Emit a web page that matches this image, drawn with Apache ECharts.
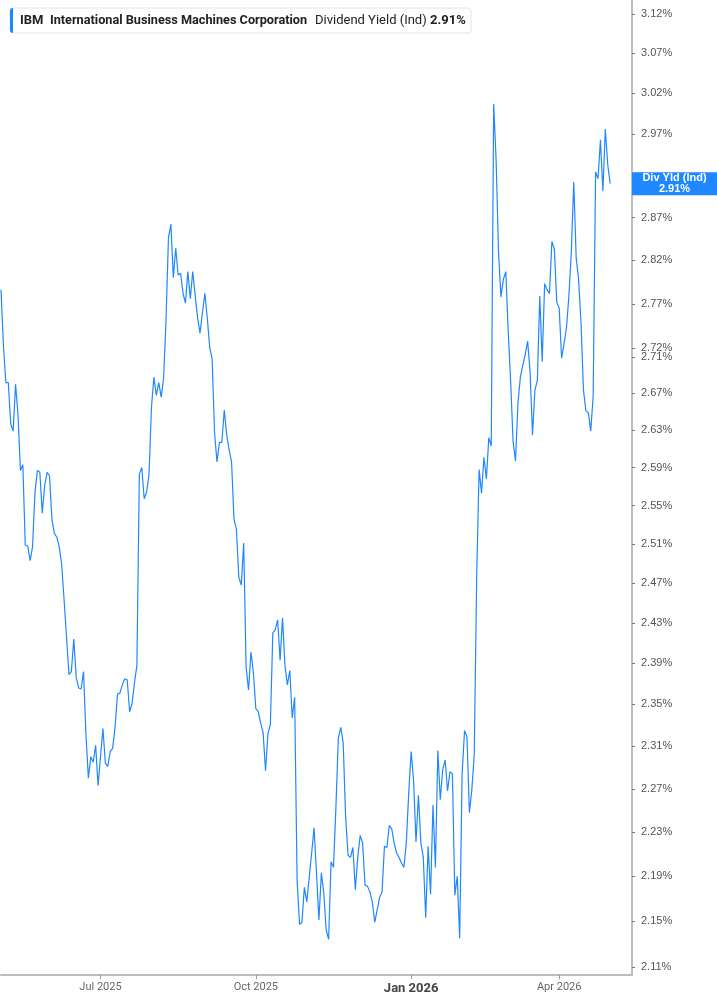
<!DOCTYPE html>
<html><head><meta charset="utf-8">
<script src="https://cdn.jsdelivr.net/npm/echarts@6/dist/echarts.min.js"></script>
<style>html,body{margin:0;padding:0;background:#fff}#c{width:717px;height:1005px}</style>
</head><body><div id="c"></div>
<script>
const ticker = 'IBM';
const companyName = 'International Business Machines Corporation';
const metricName = 'Dividend Yield (Ind)';
const metricShort = 'Div Yld (Ind)';
const startDate = '2025-05-01';
const categoryCount = 261;
const marketHolidays = ['2025-05-26','2025-06-19','2025-07-04','2025-09-01','2025-11-27','2025-12-25',
  '2026-01-01','2026-01-19','2026-02-16','2026-04-03'];
const monthNames = ['Jan','Feb','Mar','Apr','May','Jun','Jul','Aug','Sep','Oct','Nov','Dec'];
const quarterMonths = [0,3,6,9];
const yTickValues = [2.11,2.15,2.19,2.23,2.27,2.31,2.35,2.39,2.43,2.47,2.51,2.55,2.59,2.63,2.67,2.71,2.72,2.77,2.82,2.87,2.97,3.02,3.07,3.12];
const yieldValues = [
2.786,2.723,2.682,2.682,2.637,2.629,2.680,2.647,2.587,2.593,
2.509,2.508,2.493,2.507,2.564,2.587,2.585,2.542,2.571,2.585,
2.581,2.535,2.521,2.517,2.507,2.489,2.453,2.416,2.379,2.382,
2.414,2.376,2.366,2.365,2.382,2.321,2.280,2.300,2.295,2.311,
2.273,2.300,2.327,2.294,2.291,2.305,2.308,2.328,2.360,2.361,
2.369,2.375,2.374,2.343,2.351,2.371,2.388,2.583,2.590,2.557,
2.564,2.583,2.655,2.688,2.668,2.682,2.666,2.687,2.752,2.846,
2.862,2.800,2.834,2.803,2.805,2.782,2.771,2.807,2.776,2.807,
2.780,2.754,2.737,2.760,2.782,2.754,2.721,2.708,2.627,2.596,
2.617,2.617,2.652,2.625,2.609,2.596,2.536,2.525,2.476,2.468,
2.511,2.386,2.364,2.401,2.381,2.346,2.343,2.332,2.323,2.287,
2.322,2.331,2.420,2.423,2.433,2.393,2.435,2.388,2.369,2.383,
2.337,2.357,2.187,2.147,2.149,2.180,2.167,2.189,2.211,2.234,
2.193,2.151,2.193,2.175,2.142,2.134,2.203,2.198,2.253,2.318,
2.328,2.313,2.244,2.209,2.207,2.216,2.178,2.207,2.227,2.220,
2.182,2.181,2.176,2.167,2.149,2.160,2.171,2.176,2.217,2.216,
2.236,2.233,2.220,2.211,2.207,2.202,2.198,2.220,2.266,2.305,
2.278,2.221,2.264,2.220,2.207,2.153,2.217,2.174,2.255,2.198,
2.306,2.260,2.288,2.297,2.268,2.286,2.284,2.173,2.190,2.135,
2.284,2.325,2.319,2.248,2.269,2.302,2.476,2.588,2.563,2.601,
2.578,2.622,2.613,3.007,2.939,2.830,2.778,2.798,2.807,2.739,
2.683,2.618,2.597,2.659,2.688,2.701,2.713,2.728,2.694,2.625,
2.674,2.684,2.779,2.705,2.793,2.786,2.782,2.842,2.833,2.772,
2.765,2.709,2.725,2.743,2.779,2.830,2.912,2.823,2.798,2.748,
2.674,2.651,2.649,2.629,2.667,2.924,2.916,2.963,2.901,2.976,
2.933,2.910
];

function tradingDays(start, n, holidays) {
  const out = [];
  const d = new Date(start + 'T00:00:00Z');
  while (out.length < n) {
    const wd = d.getUTCDay();
    const s = d.toISOString().slice(0, 10);
    if (wd !== 0 && wd !== 6 && holidays.indexOf(s) < 0) out.push(s);
    d.setUTCDate(d.getUTCDate() + 1);
  }
  return out;
}
const categories = tradingDays(startDate, categoryCount, marketHolidays);
function isQuarterStart(i) {
  if (i <= 0) return false;
  const m = +categories[i].slice(5, 7) - 1;
  const pm = +categories[i - 1].slice(5, 7) - 1;
  return m !== pm && quarterMonths.indexOf(m) >= 0;
}
const lastValue = yieldValues[yieldValues.length - 1];
const lineColor = '#1f87ff';
const legendFont = 'Roboto, Inter, sans-serif';

const chart = echarts.init(document.getElementById('c'), null, {renderer: 'canvas'});
chart.setOption({
  animation: false,
  backgroundColor: '#fff',
  grid: {left: 1, right: 85, top: 0, bottom: 30, outerBoundsMode: 'none', containLabel: false},
  xAxis: {
    type: 'category',
    data: categories,
    boundaryGap: false,
    axisLine: {show: true, onZero: false, lineStyle: {color: '#bdbdbd', width: 2}},
    axisTick: {show: true, length: 4, lineStyle: {color: '#999'}, interval: (i) => isQuarterStart(i)},
    axisLabel: {
      interval: (i) => isQuarterStart(i),
      margin: 7,
      fontFamily: 'Roboto', fontSize: 11, color: '#666',
      formatter: (v) => {
        const m = +v.slice(5, 7) - 1;
        const t = monthNames[m] + ' ' + v.slice(0, 4);
        return m === 0 ? '{b|' + t + '}' : t;
      },
      rich: {b: {fontFamily: 'Roboto', fontSize: 13, fontWeight: 'bold', color: '#444'}}
    },
    splitLine: {show: false}
  },
  yAxis: {
    type: 'log',
    logBase: 10,
    position: 'right',
    min: 2.103,
    max: 3.138,
    axisLine: {show: true, lineStyle: {color: '#bdbdbd', width: 2}},
    axisTick: {show: true, length: 3, inside: false, customValues: yTickValues, lineStyle: {color: '#777', width: 1}},
    axisLabel: {
      customValues: yTickValues,
      margin: 9,
      fontFamily: 'Liberation Sans, Arial', fontSize: 11, color: '#555',
      formatter: (v) => (+v).toFixed(2) + '%'
    },
    splitLine: {show: false}
  },
  series: [{
    type: 'line',
    data: yieldValues,
    showSymbol: false,
    symbol: 'none',
    lineStyle: {color: lineColor, width: 1.2},
    itemStyle: {color: lineColor}
  }],
  graphic: [
    {type: 'rect', shape: {x: 10, y: 8, width: 461, height: 25, r: 3}, style: {fill: '#fff', stroke: '#e4e4e4', lineWidth: 1}, z: 10},
    {type: 'rect', shape: {x: 10, y: 8, width: 3, height: 25, r: [3, 0, 0, 3]}, style: {fill: lineColor}, z: 11},
    {type: 'text', x: 20, y: 21, style: {text: ticker, fill: '#222', font: 'bold 13px ' + legendFont, verticalAlign: 'middle'}, z: 11},
    {type: 'text', x: 50, y: 21, style: {text: companyName, fill: '#222', font: 'bold 12.7px ' + legendFont, verticalAlign: 'middle'}, z: 11},
    {type: 'text', x: 315, y: 21, style: {text: metricName, fill: '#222', font: '13px ' + legendFont, verticalAlign: 'middle'}, z: 11},
    {type: 'text', x: 430, y: 21, style: {text: lastValue.toFixed(2) + '%', fill: '#222', font: 'bold 13px ' + legendFont, verticalAlign: 'middle'}, z: 11}
  ]
});

// value badge on the right axis, placed through the chart's own scales
const badgeY = chart.convertToPixel({yAxisIndex: 0}, lastValue);
const axisX = chart.convertToPixel({xAxisIndex: 0}, categories[categories.length - 1]);
chart.setOption({
  graphic: [
    {type: 'rect', id: 'badgeBg', shape: {x: axisX, y: badgeY - 11.5, width: 717 - axisX, height: 23}, style: {fill: lineColor}, z: 20},
    {type: 'text', id: 'badgeTxt', x: axisX + (717 - axisX) / 2, y: badgeY,
      style: {text: metricShort + '\n' + lastValue.toFixed(2) + '%', fill: '#fff', font: 'bold 11px Liberation Sans, Arial',
        align: 'center', verticalAlign: 'middle', lineHeight: 11}, z: 21}
  ]
});
</script></body></html>
